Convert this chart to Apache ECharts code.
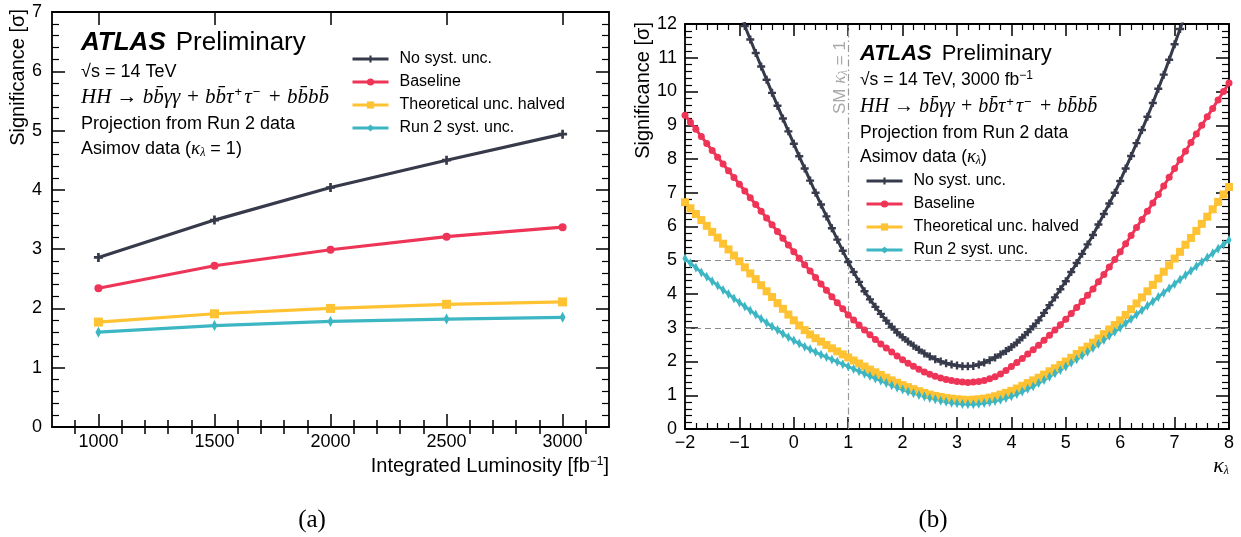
<!DOCTYPE html>
<html><head><meta charset="utf-8">
<script src="https://cdn.jsdelivr.net/npm/echarts@6/dist/echarts.min.js"></script>
<style>html,body{margin:0;padding:0;background:#fff}#c{width:1241px;height:537px}</style>
</head><body><div id="c"></div>
<script>
// ---------- data: panel (a) ----------
const seriesNames = ['No syst. unc.', 'Baseline', 'Theoretical unc. halved', 'Run 2 syst. unc.'];
const lumi = [1000, 1500, 2000, 2500, 3000];
const lumiNoSyst = [2.86, 3.49, 4.04, 4.50, 4.94];
const lumiBaseline = [2.34, 2.72, 2.99, 3.21, 3.37];
const lumiTheoHalved = [1.77, 1.91, 2.00, 2.07, 2.11];
const lumiRun2 = [1.60, 1.71, 1.78, 1.82, 1.85];
const lumiTickLabels = [1000, 1500, 2000, 2500, 3000];

// ---------- data: panel (b) ----------
const kappa = [-2,-1.9,-1.8,-1.7,-1.6,-1.5,-1.4,-1.3,-1.2,-1.1,-1,-0.9,-0.8,-0.7,-0.6,-0.5,-0.4,-0.3,-0.2,-0.1,
  0,0.1,0.2,0.3,0.4,0.5,0.6,0.7,0.8,0.9,1,1.1,1.2,1.3,1.4,1.5,1.6,1.7,1.8,1.9,
  2,2.1,2.2,2.3,2.4,2.5,2.6,2.7,2.8,2.9,3,3.1,3.2,3.3,3.4,3.5,3.6,3.7,3.8,3.9,
  4,4.1,4.2,4.3,4.4,4.5,4.6,4.7,4.8,4.9,5,5.1,5.2,5.3,5.4,5.5,5.6,5.7,5.8,5.9,
  6,6.1,6.2,6.3,6.4,6.5,6.6,6.7,6.8,6.9,7,7.1,7.2,7.3,7.4,7.5,7.6,7.7,7.8,7.9,8];
// No syst. unc. starts at kappa = -1.0 and ends at 7.2 (beyond that it leaves the frame)
const kappaNoSyst = [-1,-0.9,-0.8,-0.7,-0.6,-0.5,-0.4,-0.3,-0.2,-0.1,
  0,0.1,0.2,0.3,0.4,0.5,0.6,0.7,0.8,0.9,1,1.1,1.2,1.3,1.4,1.5,1.6,1.7,1.8,1.9,
  2,2.1,2.2,2.3,2.4,2.5,2.6,2.7,2.8,2.9,3,3.1,3.2,3.3,3.4,3.5,3.6,3.7,3.8,3.9,
  4,4.1,4.2,4.3,4.4,4.5,4.6,4.7,4.8,4.9,5,5.1,5.2,5.3,5.4,5.5,5.6,5.7,5.8,5.9,
  6,6.1,6.2,6.3,6.4,6.5,6.6,6.7,6.8,6.9,7,7.1,7.2];
const sigNoSyst = [12.35,11.94,11.54,11.14,10.74,10.35,9.96,9.58,9.20,8.82,
  8.45,8.08,7.72,7.36,7.00,6.65,6.30,5.95,5.61,5.28,
  4.95,4.65,4.36,4.08,3.84,3.62,3.41,3.21,3.03,2.86,
  2.72,2.59,2.47,2.35,2.24,2.15,2.07,2.00,1.95,1.91,
  1.88,1.86,1.86,1.87,1.91,1.97,2.04,2.12,2.21,2.31,
  2.43,2.56,2.71,2.87,3.04,3.22,3.44,3.67,3.90,4.14,
  4.38,4.65,4.92,5.19,5.47,5.75,6.06,6.37,6.68,7.00,
  7.35,7.72,8.09,8.47,8.86,9.25,9.66,10.08,10.50,10.94,
  11.40,11.85,12.30];
const sigBaseline = [9.30,9.09,8.88,8.67,8.46,8.25,8.05,7.85,7.65,7.45,
  7.25,7.05,6.85,6.65,6.45,6.25,6.05,5.85,5.65,5.45,
  5.25,5.06,4.87,4.68,4.49,4.30,4.11,3.92,3.74,3.56,
  3.38,3.23,3.08,2.93,2.79,2.65,2.52,2.40,2.28,2.16,
  2.05,1.95,1.86,1.77,1.69,1.62,1.56,1.51,1.47,1.44,
  1.41,1.39,1.38,1.39,1.41,1.44,1.49,1.55,1.63,1.73,
  1.85,1.97,2.09,2.22,2.35,2.48,2.63,2.78,2.93,3.09,
  3.25,3.42,3.60,3.78,3.96,4.15,4.36,4.58,4.80,5.02,
  5.25,5.49,5.73,5.97,6.21,6.45,6.70,6.95,7.20,7.46,
  7.72,7.98,8.23,8.49,8.74,9.00,9.25,9.50,9.75,10.00,
  10.25];
const sigTheoHalved = [6.72,6.54,6.37,6.19,6.02,5.84,5.67,5.49,5.32,5.14,
  4.97,4.79,4.61,4.44,4.26,4.08,3.91,3.73,3.56,3.39,
  3.22,3.07,2.93,2.80,2.69,2.59,2.49,2.39,2.30,2.21,
  2.12,2.03,1.94,1.85,1.76,1.68,1.60,1.52,1.44,1.37,
  1.30,1.24,1.18,1.12,1.07,1.02,0.98,0.95,0.92,0.90,
  0.88,0.87,0.86,0.87,0.88,0.90,0.93,0.97,1.02,1.07,
  1.13,1.20,1.28,1.36,1.44,1.52,1.61,1.71,1.80,1.90,
  2.00,2.11,2.22,2.33,2.44,2.56,2.68,2.81,2.95,3.08,
  3.22,3.38,3.55,3.72,3.90,4.08,4.27,4.46,4.66,4.85,
  5.05,5.25,5.46,5.66,5.87,6.08,6.29,6.51,6.73,6.95,
  7.17];
const sigRun2 = [5.05,4.91,4.78,4.64,4.51,4.38,4.25,4.12,4.00,3.87,
  3.75,3.63,3.51,3.39,3.27,3.15,3.04,2.93,2.82,2.72,
  2.62,2.53,2.44,2.36,2.28,2.20,2.13,2.06,1.99,1.92,
  1.85,1.78,1.71,1.64,1.57,1.50,1.43,1.36,1.30,1.23,
  1.17,1.11,1.06,1.01,0.96,0.92,0.88,0.84,0.81,0.78,
  0.76,0.74,0.73,0.73,0.75,0.77,0.80,0.83,0.87,0.92,
  0.97,1.04,1.11,1.19,1.27,1.36,1.45,1.55,1.65,1.75,
  1.85,1.96,2.07,2.18,2.29,2.40,2.52,2.64,2.76,2.88,
  3.00,3.13,3.26,3.39,3.52,3.65,3.78,3.91,4.04,4.17,
  4.30,4.43,4.56,4.69,4.82,4.95,5.08,5.21,5.34,5.47,
  5.60];
const sigRefLines = [5, 3];
const smKappa = 1;

// ---------- styling ----------
const colors = ['#363a4a', '#ee3557', '#fec232', '#3db6c3'];
const FONT = 'Liberation Sans';
const SERIF = 'Liberation Serif';
const plusSym = 'path://M3.5,0H6.5V3.5H10V6.5H6.5V10H3.5V6.5H0V3.5H3.5Z';
const thinDiamond = 'path://M1,0L2,1L1,2L0,1Z';
const symbols = [plusSym, 'circle', 'rect', thinDiamond];
const symSizeA = [9, 8, 9, [6, 11]];
const symSizeB = [8, 7, 8, [5, 10]];

const pairs = (xs, ys) => ys.map((y, i) => [xs[i], y]);
const minus = v => String(v).replace('-', '\u2212');

// minor tick positions for the luminosity axis (every 100, skipping majors)
const lumiMinor = [];
for (let v = 900; v < 3200; v += 100) if (v % 500 !== 0) lumiMinor.push(v);

const frame = {show: true, onZero: false, lineStyle: {color: '#000', width: 1.8}};
const noLabel = {show: false};

function xLumi(pos, custom, len, showLine, showLab) {
  return {
    gridIndex: 0, type: 'value', position: pos, min: 800, max: 3200,
    axisLine: showLine ? frame : {show: false},
    axisTick: {show: true, inside: true, length: len, customValues: custom, lineStyle: {color: '#000', width: 1.5}},
    axisLabel: showLab ? {show: true, customValues: custom, color: '#000', fontFamily: FONT, fontSize: 18, margin: 6, formatter: v => String(v)} : noLabel,
    splitLine: {show: false}
  };
}
function yAx(grid, pos, max, showLab, lmargin) {
  return {
    gridIndex: grid, type: 'value', position: pos, min: 0, max: max, interval: 1,
    axisLine: frame,
    axisTick: {show: true, inside: true, length: 13, lineStyle: {color: '#000', width: 1.5}},
    minorTick: {show: true, splitNumber: 5, length: 7, lineStyle: {color: '#000', width: 1.2}},
    axisLabel: showLab ? {show: true, color: '#000', fontFamily: FONT, fontSize: 18, margin: lmargin} : noLabel,
    splitLine: {show: false}, minorSplitLine: {show: false}
  };
}
function xKappa(pos, showLab) {
  return {
    gridIndex: 1, type: 'value', position: pos, min: -2, max: 8, interval: 1,
    axisLine: frame,
    axisTick: {show: true, inside: true, length: 12, lineStyle: {color: '#000', width: 1.5}},
    minorTick: {show: true, splitNumber: 5, length: 6, lineStyle: {color: '#000', width: 1.2}},
    axisLabel: showLab ? {show: true, color: '#000', fontFamily: FONT, fontSize: 18, margin: 5, formatter: minus} : noLabel,
    splitLine: {show: false}, minorSplitLine: {show: false}
  };
}

const lumiSeriesData = [lumiNoSyst, lumiBaseline, lumiTheoHalved, lumiRun2];
const kappaSeries = [pairs(kappaNoSyst, sigNoSyst), pairs(kappa, sigBaseline), pairs(kappa, sigTheoHalved), pairs(kappa, sigRun2)];

const series = [];
lumiSeriesData.forEach((d, i) => series.push({
  name: seriesNames[i], type: 'line', xAxisIndex: 0, yAxisIndex: 0,
  data: pairs(lumi, d), symbol: symbols[i], symbolSize: symSizeA[i], showSymbol: true,
  lineStyle: {color: colors[i], width: 3.2}, itemStyle: {color: colors[i]},
  animation: false, silent: true, z: 3
}));
kappaSeries.forEach((d, i) => {
  const s = {
    name: seriesNames[i], type: 'line', xAxisIndex: 4, yAxisIndex: 2,
    data: d, symbol: symbols[i], symbolSize: symSizeB[i], showSymbol: true, clip: true,
    lineStyle: {color: colors[i], width: 3}, itemStyle: {color: colors[i]},
    animation: false, silent: true, z: 3
  };
  if (i === 1) {
    s.markLine = {
      silent: true, symbol: 'none', animation: false, z: 1,
      label: {show: false},
      data: [
        {yAxis: sigRefLines[0], lineStyle: {color: '#8a8a8a', type: [6, 4], width: 1.2}},
        {yAxis: sigRefLines[1], lineStyle: {color: '#8a8a8a', type: [6, 4], width: 1.2}},
        {xAxis: smKappa, lineStyle: {color: '#9a9a9a', type: [7, 3, 1.5, 3], width: 1.2}}
      ]
    };
  }
  series.push(s);
});

const txt = (x, y, text, extra) => ({
  type: 'text', x: x, y: y, silent: true, z: 10,
  style: Object.assign({text: text, fill: '#000', fontFamily: FONT, fontSize: 18, verticalAlign: 'middle', align: 'left'}, extra || {})
});
function richSet(big, n, mi, sub) {
  return {
    a: {fontFamily: FONT, fontSize: big, fontWeight: 'bold', fontStyle: 'italic', fill: '#000'},
    b: {fontFamily: FONT, fontSize: big, fill: '#000'},
    i: {fontFamily: SERIF, fontStyle: 'italic', fontSize: n + 1, fill: '#000'},
    sub: {fontFamily: SERIF, fontStyle: 'italic', fontSize: sub, fill: '#000', verticalAlign: 'bottom', padding: [8, 0, 0, 0]},
    sup: {fontFamily: FONT, fontSize: sub, fill: '#000', verticalAlign: 'top', padding: [0, 0, 8, 0]},
    n: {fontFamily: FONT, fontSize: n, fill: '#000'},
    m: {fontFamily: SERIF, fontStyle: 'italic', fontSize: mi, fill: '#000'},
    p: {fontFamily: FONT, fontSize: sub + 1, fill: '#000', verticalAlign: 'top', padding: [0, 2, 9, 1]}
  };
}
const richA = richSet(26, 18, 21, 12);
const richB = richSet(22, 17.5, 20, 12);
const hh = '{m|HH \u2192 bb\u0304\u03b3\u03b3 + bb\u0304\u03c4}{p|+}{m|\u03c4}{p|\u2212}{m| + bb\u0304bb\u0304}';

const graphic = [
  // panel (a) texts
  txt(81, 43, '{a|ATLAS}  {b|Preliminary}', {rich: richA}),
  txt(81, 72, '{n|\u221as = 14 TeV}', {rich: richA}),
  txt(81, 97, hh, {rich: richA}),
  txt(81, 124, '{n|Projection from Run 2 data}', {rich: richA}),
  txt(81, 149, '{n|Asimov data (}{i|\u03ba}{sub|\u03bb}{n| = 1)}', {rich: richA}),
  // panel (b) texts
  txt(860, 54, '{a|ATLAS}  {b|Preliminary}', {rich: richB}),
  txt(860, 80, '{n|\u221as = 14 TeV, 3000 fb}{sup|\u22121}', {rich: richB}),
  txt(860, 107, hh, {rich: richB}),
  txt(860, 133, '{n|Projection from Run 2 data}', {rich: richB}),
  txt(860, 157, '{n|Asimov data (}{i|\u03ba}{sub|\u03bb}{n|)}', {rich: richB}),
  // SM label
  Object.assign(txt(840, 114, '{g|SM }{gi|\u03ba}{gs|\u03bb}{g| = 1}', {rich: {
    g: {fontFamily: FONT, fontSize: 17, fill: '#a8a8a8'},
    gi: {fontFamily: SERIF, fontStyle: 'italic', fontSize: 18, fill: '#a8a8a8'},
    gs: {fontFamily: SERIF, fontStyle: 'italic', fontSize: 12, fill: '#a8a8a8', verticalAlign: 'bottom', padding: [8, 0, 0, 0]}
  }}), {rotation: Math.PI / 2}),
  // axis titles
  Object.assign(txt(18, 9, 'Significance [\u03c3]', {fontSize: 20, align: 'right'}), {rotation: Math.PI / 2}),
  Object.assign(txt(643, 22, 'Significance [\u03c3]', {fontSize: 20, align: 'right'}), {rotation: Math.PI / 2}),
  txt(609, 466, '{t|Integrated Luminosity [fb}{sup|\u22121}{t|]}', {align: 'right', rich: Object.assign({}, richA, {t: {fontFamily: FONT, fontSize: 20, fill: '#000'}})}),
  txt(1229, 466, '{i|\u03ba}{sub|\u03bb}', {align: 'right', rich: Object.assign({}, richA, {i: {fontFamily: SERIF, fontStyle: 'italic', fontSize: 22, fill: '#000'}})}),
  // captions
  txt(312, 520, '(a)', {fontFamily: SERIF, fontSize: 25, align: 'center'}),
  txt(933, 520, '(b)', {fontFamily: SERIF, fontSize: 25, align: 'center'})
];

const legendBase = {
  orient: 'vertical', itemWidth: 36, itemHeight: 9, itemGap: 7, padding: 0,
  data: seriesNames, selectedMode: false,
  lineStyle: {width: 3},
  textStyle: {fontFamily: FONT, fontSize: 16, color: '#000', padding: [0, 0, 0, 6]}
};

const option = {
  backgroundColor: '#fff',
  animation: false,
  grid: [
    {left: 52, top: 12, right: 1241 - 609, bottom: 537 - 427},
    {left: 685, top: 24, right: 1241 - 1229, bottom: 537 - 429}
  ],
  xAxis: [
    xLumi('bottom', lumiTickLabels, 13, true, true),
    xLumi('bottom', lumiMinor, 7, false, false),
    xLumi('top', lumiTickLabels, 13, true, false),
    xLumi('top', lumiMinor, 7, false, false),
    xKappa('bottom', true),
    xKappa('top', false)
  ],
  yAxis: [
    yAx(0, 'left', 7, true, 10),
    yAx(0, 'right', 7, false, 0),
    yAx(1, 'left', 12, true, 8),
    yAx(1, 'right', 12, false, 0)
  ],
  legend: [
    Object.assign({left: 351, top: 51}, legendBase),
    Object.assign({left: 865, top: 173}, legendBase)
  ],
  graphic: graphic,
  series: series
};

const chart = echarts.init(document.getElementById('c'), null, {renderer: 'canvas'});
chart.setOption(option);
</script>
</body></html>
